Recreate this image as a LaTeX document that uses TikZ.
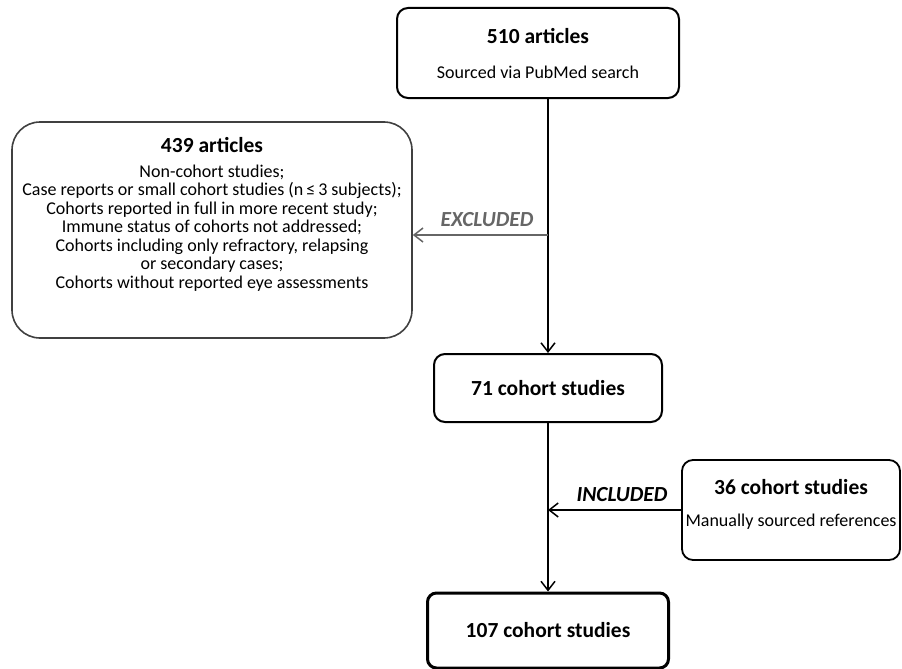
\documentclass[tikz,border=0pt]{standalone}
\usepackage{fontspec}
\setmainfont{Carlito}
\usetikzlibrary{arrows.meta}
\begin{document}
\begin{tikzpicture}[x=1pt,y=-1pt,
  box/.style={draw=black,line width=2pt,rounded corners=11pt,align=center,inner sep=0pt},
  title/.style={font=\fontsize{21.5}{24}\selectfont\bfseries},
  body/.style={font=\fontsize{18}{18.5}\selectfont,align=center},
  arr/.style={line width=2pt,-{Straight Barb[length=9pt,width=14pt,line width=1.5pt]}},
  grayarr/.style={draw=black!60,line width=1.8pt,-{Straight Barb[length=9pt,width=14pt,line width=1.5pt]}},
  lab/.style={font=\fontsize{21.5}{24}\selectfont\bfseries\itshape}]
\useasboundingbox (0,0) rectangle (902,669);
\node[box,minimum width=282pt,minimum height=90pt] (top) at (538,53) {};
\node[title] (toptitle) at (538,36) {510 articles};
\node[body] (topsub) at (538,72) {Sourced via PubMed search};
\node[box,draw=black!75,line width=1.6pt,rounded corners=28pt,minimum width=400pt,minimum height=216pt] (lbox) at (212,230) {};
\node[title] (ltitle) at (212,145) {439 articles};
\node[body] (ltext) at (212,228) {Non-cohort studies;\\Case reports or small cohort studies (n\,≤\,3 subjects);\\Cohorts reported in full in more recent study;\\Immune status of cohorts not addressed;\\Cohorts including only refractory, relapsing\\or secondary cases;\\Cohorts without reported eye assessments};
\node[box,minimum width=228pt,minimum height=68pt,title] (m71) at (548,388) {71 cohort studies};
\node[box,line width=1.8pt,minimum width=218pt,minimum height=100pt] (b36) at (791,510) {};
\node[title] (t36) at (791,487) {36 cohort studies};
\node[body] (s36) at (791,522) {Manually sourced references};
\node[box,line width=3pt,rounded corners=9pt,minimum width=241pt,minimum height=75pt,title] (b107) at (548,630.5) {107 cohort studies};
\draw[arr] (top.south -| m71.north) -- (m71.north);
\coordinate (ex) at (548,235);
\draw[grayarr] (ex) -- (ex -| lbox.east);
\node[lab,text=black!60] (exl) at (487,220) {EXCLUDED};
\draw[arr] (m71.south) -- (b107.north);
\draw[arr] (b36.west) -- (b36.west -| m71.south);
\node[lab] (inl) at (622,495) {INCLUDED};
\end{tikzpicture}
\end{document}
